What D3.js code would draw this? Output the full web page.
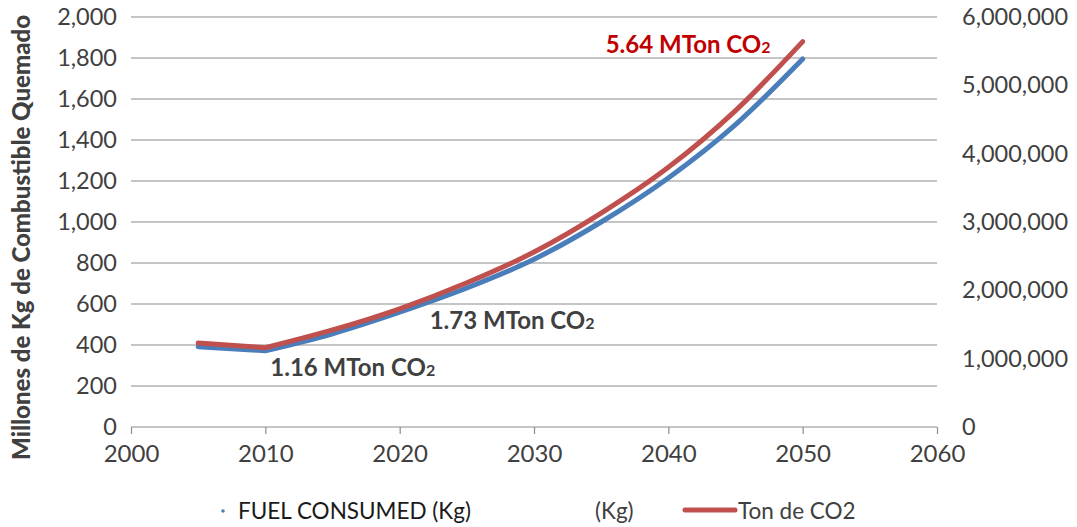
<!DOCTYPE html>
<html><head><meta charset="utf-8">
<script src="https://cdn.jsdelivr.net/npm/d3@7"></script>
<style>body{margin:0;background:#fff}svg{display:block}</style>
</head><body><svg id="c" width="1077" height="527"></svg>
<script>
const years=[2005,2010,2015,2020,2025,2030,2035,2040,2045,2050];
const fuelMillionKg=[392,372,455,560,678,818,1000,1215,1475,1795];
const co2Tons=[1230000,1160000,1420000,1730000,2110000,2560000,3130000,3800000,4630000,5640000];
const xTickValues=[2000,2010,2020,2030,2040,2050,2060];
const leftTickValues=[0,200,400,600,800,1000,1200,1400,1600,1800,2000];
const rightTickValues=[0,1000000,2000000,3000000,4000000,5000000,6000000];
const annotations=[
 {year:2010,text:"1.16 MTon CO",color:"#404040"},
 {year:2020,text:"1.73 MTon CO",color:"#404040"},
 {year:2050,text:"5.64 MTon CO",color:"#C00000"}
];
const yTitle="Millones de Kg de Combustible Quemado";
const legendItems=["FUEL CONSUMED (Kg)","(Kg)","Ton de CO2"];

const FONT="Lato, 'Open Sans', sans-serif";
const svg=d3.select("#c");
const L=131,R=937,T=17,B=427;
const x=d3.scaleLinear().domain([2000,2060]).range([L,R]);
const yL=d3.scaleLinear().domain([0,2000]).range([B,T]);
const yR=d3.scaleLinear().domain([0,6000000]).range([B,T]);

// gridlines
svg.append("g").selectAll("line").data(leftTickValues.filter(d=>d>0)).join("line")
 .attr("x1",L).attr("x2",R).attr("y1",d=>yL(d)).attr("y2",d=>yL(d))
 .attr("stroke","#8c8c8c").attr("stroke-width",1.2);

// x axis
const xa=svg.append("g").attr("transform",`translate(0,${B})`)
 .call(d3.axisBottom(x).tickValues(xTickValues).tickFormat(d3.format("d")).tickSize(7).tickPadding(11));
xa.select(".domain").attr("stroke","#8c8c8c").attr("stroke-width",1.2).attr("d",`M${L},0H${R}`);
xa.selectAll(".tick line").attr("stroke","#8c8c8c").attr("stroke-width",1.2);
xa.selectAll("text").attr("font-family",FONT).attr("font-size",24).attr("fill","#404040");

// left axis
const la=svg.append("g").attr("transform",`translate(${L},0)`)
 .call(d3.axisLeft(yL).tickValues(leftTickValues).tickFormat(d3.format(",")).tickSize(0).tickPadding(14));
la.select(".domain").remove();
la.selectAll("text").attr("font-family",FONT).attr("font-size",23.5).attr("fill","#404040");

// right axis
const ra=svg.append("g").attr("transform",`translate(${R},0)`)
 .call(d3.axisRight(yR).tickValues(rightTickValues).tickFormat(d3.format(",")).tickSize(0).tickPadding(25));
ra.select(".domain").remove();
ra.selectAll("text").attr("font-family",FONT).attr("font-size",23.5).attr("fill","#404040");

// y title
svg.append("text").attr("transform",`translate(30,${(10+465)/2}) rotate(-90)`)
 .attr("text-anchor","middle").attr("font-family",FONT).attr("font-weight","900")
 .attr("font-size",24).attr("fill","#404040").text(yTitle);

// lines: straight first segment, smooth afterwards
function pathFor(vals,scale){
 const pts=years.map((yr,i)=>[x(yr),scale(vals[i])]);
 return d3.line()(pts.slice(0,2))+d3.line().curve(d3.curveMonotoneX)(pts.slice(1));
}
svg.append("path").attr("d",pathFor(fuelMillionKg,yL))
 .attr("fill","none").attr("stroke","#4A7EBB").attr("stroke-width",5).attr("stroke-linecap","round").attr("stroke-linejoin","round");
svg.append("path").attr("d",pathFor(co2Tons,yR))
 .attr("fill","none").attr("stroke","#C0504D").attr("stroke-width",5).attr("stroke-linecap","round").attr("stroke-linejoin","round");

// annotations
const offs=[[5,376],[30,329],[-197,53]];
annotations.forEach((a,i)=>{
 const t=svg.append("text").attr("x",x(a.year)+offs[i][0]).attr("y",offs[i][1])
  .attr("font-family",FONT).attr("font-weight","bold").attr("font-size",24).attr("fill",a.color);
 t.append("tspan").text(a.text);
 t.append("tspan").attr("font-size",16).text("2");
});

// legend
const lg=svg.append("g").attr("font-family",FONT).attr("font-size",22.5).attr("fill","#1a1a1a");
lg.append("circle").attr("cx",223).attr("cy",511).attr("r",1.8).attr("fill","#4A7EBB");
lg.append("text").attr("x",238).attr("y",519).text(legendItems[0]);
lg.append("text").attr("x",595).attr("y",519).attr("fill","#404040").text(legendItems[1]);
lg.append("line").attr("x1",685).attr("x2",735).attr("y1",510).attr("y2",510)
 .attr("stroke","#C0504D").attr("stroke-width",5).attr("stroke-linecap","round");
lg.append("text").attr("x",738).attr("y",519).attr("fill","#404040").text(legendItems[2]);
</script></body></html>
